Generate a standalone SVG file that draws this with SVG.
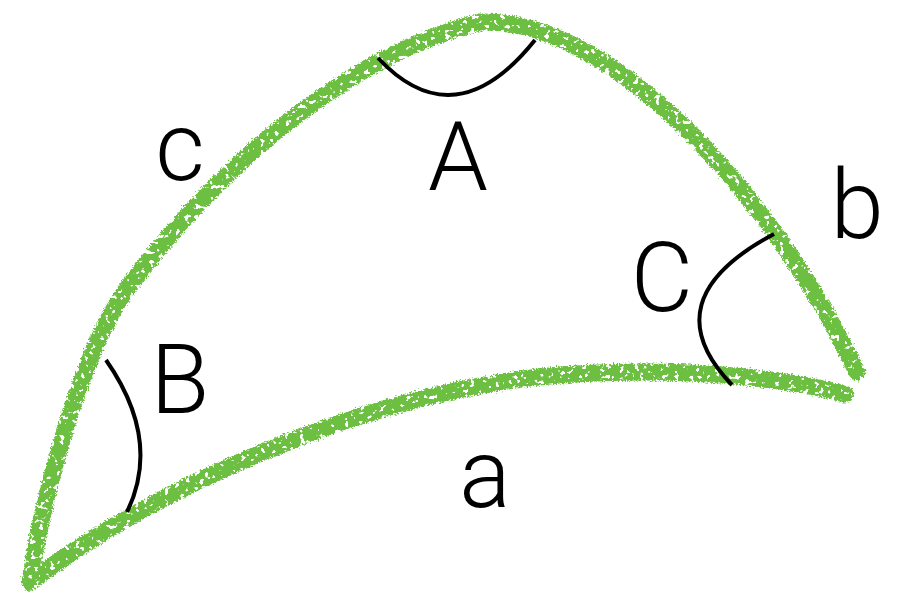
<svg xmlns="http://www.w3.org/2000/svg" width="897" height="597" viewBox="0 0 897 597">
<defs>
<filter id="rough" x="-5%" y="-5%" width="110%" height="110%">
<feTurbulence type="fractalNoise" baseFrequency="0.6" numOctaves="2" seed="3" result="n"/>
<feDisplacementMap in="SourceGraphic" in2="n" scale="6" xChannelSelector="R" yChannelSelector="G" result="disp"/>
<feTurbulence type="fractalNoise" baseFrequency="0.2" numOctaves="2" seed="11" result="n2"/>
<feColorMatrix in="n2" type="matrix" values="0 0 0 0 0  0 0 0 0 0  0 0 0 0 0  -20 0 0 0 13.6" result="mask"/>
<feComposite in="disp" in2="mask" operator="in"/>
</filter>
</defs>
<style>
.side{fill:none;stroke:#6dbf43;stroke-width:17;stroke-linecap:round;stroke-linejoin:round}
.ang{fill:none;stroke:#000;stroke-width:4}
.lbl{font-family:Roboto,"Liberation Sans",sans-serif;font-weight:300;font-size:96px;fill:#000;text-anchor:middle}
</style>
<rect width="897" height="597" fill="#fff"/>
<g id="sides" filter="url(#rough)">
<path id="side-c-b" class="side" d="M30,582 C42,500 80,355 126,290 C200,190 330,60 480,22 C610,18 770,190 857,372"/>
<path id="side-a" class="side" d="M30,582 C150,490 370,390 560,375 C700,365 800,382 845,394"/>
</g>
<g id="angles">
<path id="angle-A" class="ang" d="M378,58 Q455,140 535,40"/>
<path id="angle-B" class="ang" d="M106,360 Q162,440 127,512"/>
<path id="angle-C" class="ang" d="M774,234 Q650,300 732,385"/>
</g>
<g id="labels">
<text class="lbl" x="180" y="180">c</text>
<text class="lbl" x="458" y="190">A</text>
<text class="lbl" x="857" y="238">b</text>
<text class="lbl" x="662" y="311">C</text>
<text class="lbl" x="180" y="413">B</text>
<text class="lbl" x="485" y="507">a</text>
</g>
</svg>
